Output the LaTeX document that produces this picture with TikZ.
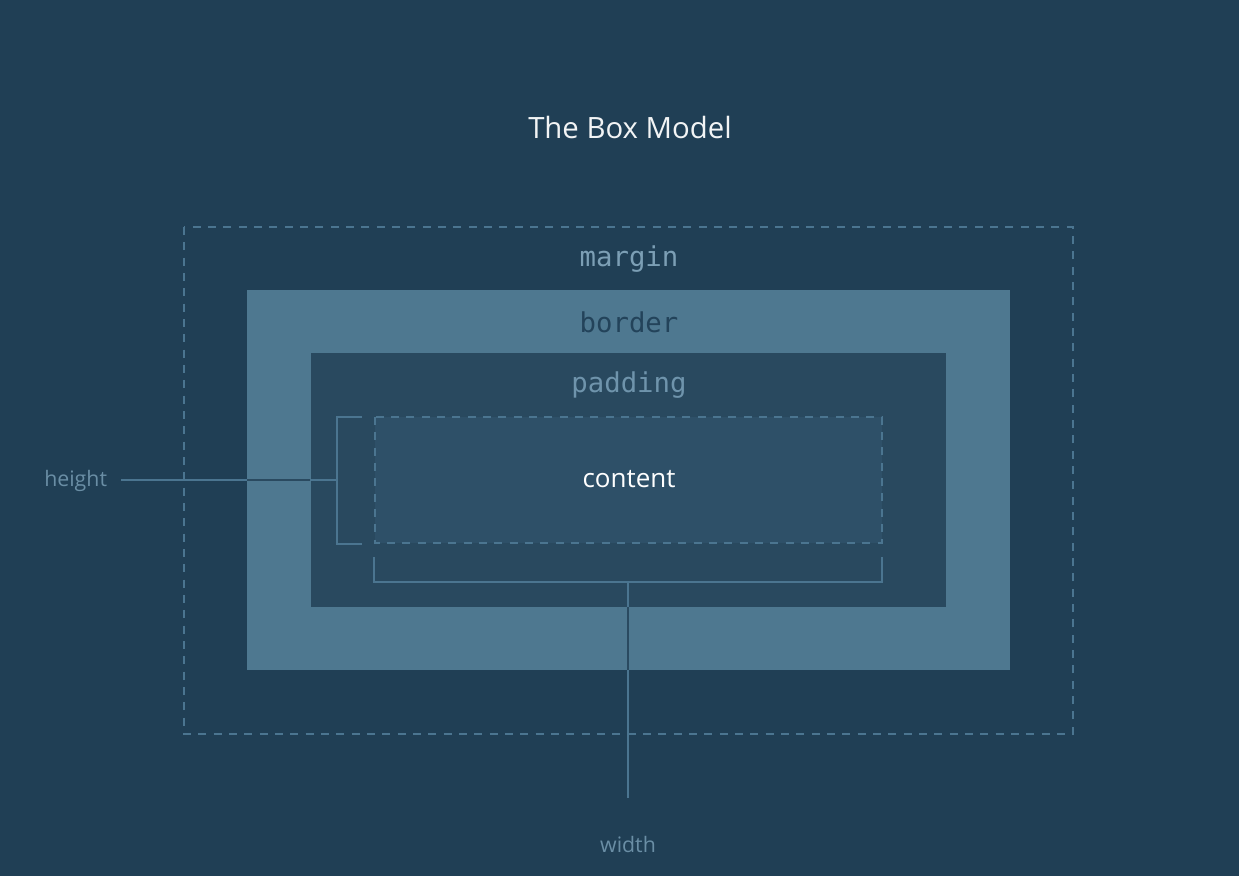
\documentclass[tikz,border=0pt]{standalone}
\usepackage{fontspec}
\setmainfont{Open Sans}
\setmonofont{DejaVu Sans Mono}
\definecolor{bg}{HTML}{203F55}
\definecolor{borderc}{HTML}{4E7890}
\definecolor{padc}{HTML}{29495F}
\definecolor{contc}{HTML}{2E5068}
\definecolor{linec}{HTML}{4B7590}
\definecolor{darkline}{HTML}{2A4A60}
\definecolor{lblc}{HTML}{6A8EA5}
\definecolor{marginc}{HTML}{7C9FB5}
\definecolor{padtxt}{HTML}{6F94AC}
\definecolor{bordtxt}{HTML}{23435A}
\tikzset{
  dashbox/.style={draw=linec, line width=1.1pt, dash pattern=on 6pt off 5.5pt},
  guide/.style={draw=linec, line width=1.1pt},
  monolbl/.style={font=\ttfamily\fontsize{20.5}{24}\selectfont, inner sep=0pt},
  sidelbl/.style={font=\fontsize{16}{19}\selectfont, text=lblc, inner sep=0pt},
}
\begin{document}
\begin{tikzpicture}[x=0.75pt,y=-0.75pt]
\fill[bg] (0,0) rectangle (1239,876);
\useasboundingbox (0,0) rectangle (1239,876);
\node[font=\fontsize{22}{26}\selectfont, text=white!94!bg, inner sep=0pt] (title) at (630,127) {The Box Model};
% margin
\draw[dashbox] (184,227) rectangle (1073,734);
\node[monolbl, text=marginc] (marginlbl) at (629,259) {margin};
% border
\fill[borderc] (247,290) rectangle (1010,670);
\node[monolbl, text=bordtxt] (borderlbl) at (629,322) {border};
% padding
\fill[padc] (311,353) rectangle (946,607);
\node[monolbl, text=padtxt] (paddinglbl) at (629,385) {padding};
% content
\fill[contc] (375,417) rectangle (882,543);
\draw[dashbox] (375,417) rectangle (882,543);
\node[font=\fontsize{19.5}{23}\selectfont, text=white, inner sep=0pt] (contentlbl) at (629,479) {content};
% height bracket
\draw[guide] (362,417) -- (337,417) -- (337,544) -- (362,544);
\coordinate (hb) at (337,480);
\node[sidelbl, anchor=west] (height) at (44,481) {height};
\coordinate (hstart) at (121,480);
\draw[guide] (hstart) -- (hb);
\draw[draw=darkline, line width=1.1pt] (247,480) -- (310,480);
% width bracket
\draw[guide] (374,557) -- (374,582) -- (882,582) -- (882,557);
\coordinate (wb) at (628,582);
\node[sidelbl] (width) at (628,844) {width};
\coordinate (wend) at (628,798);
\draw[guide] (wb) -- (wend);
\draw[draw=darkline, line width=1.1pt] (628,607) -- (628,670);
\end{tikzpicture}
\end{document}
